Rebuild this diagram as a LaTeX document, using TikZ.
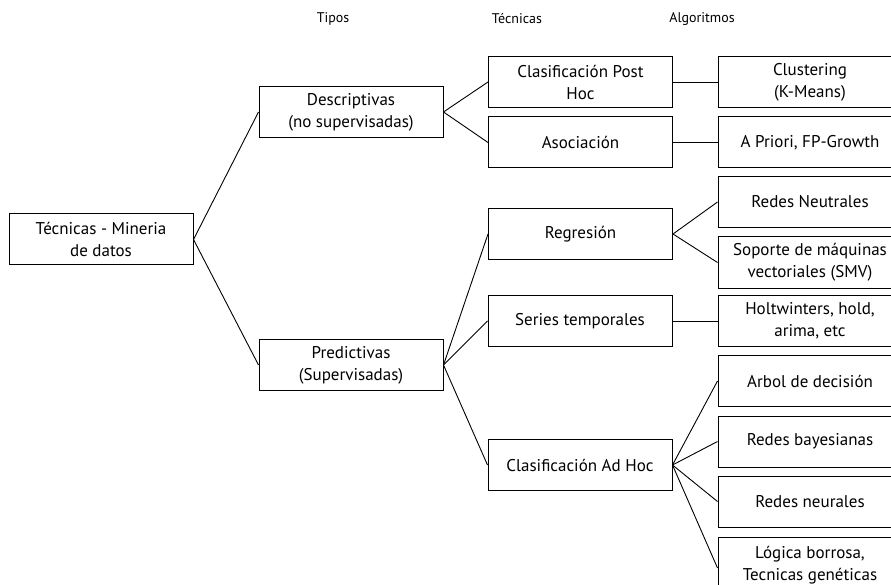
\documentclass[tikz,border=0pt]{standalone}
\usepackage{fontspec}
\setmainfont{PT Sans}
\begin{document}
\begin{tikzpicture}[x=1pt,y=-1pt,
  box/.style={draw=black,line width=1pt,minimum width=184pt,minimum height=51pt,align=center,inner sep=2pt,font=\fontsize{17}{22}\selectfont},
  hdr/.style={font=\fontsize{14}{17}\selectfont},
  con/.style={line width=0.9pt}]
\useasboundingbox (0,0) rectangle (891,585);
\clip (0,0) rectangle (891,585);
\node[hdr] (h1) at (333,19) {Tipos};
\node[hdr] (h2) at (517,19) {Técnicas};
\node[hdr] (h3) at (702,19) {Algoritmos};
\node[box] (root) at (101,239.5) {Técnicas - Mineria\\de datos};
\node[box] (desc) at (351,112) {Descriptivas\\(no supervisadas)};
\node[box] (pred) at (351,365) {Predictivas\\(Supervisadas)};
\node[box] (cph) at (580.5,82) {Clasificación Post\\Hoc};
\node[box] (asoc) at (580.5,142.5) {Asociación};
\node[box] (regr) at (580.5,234) {Regresión};
\node[box] (seri) at (580,321) {Series temporales};
\node[box] (adhoc) at (580,465) {Clasificación Ad Hoc};
\node[box] (clus) at (810,82) {Clustering\\(K-Means)};
\node[box] (apri) at (810,142.5) {A Priori, FP-Growth};
\node[box] (rneu) at (810,202) {Redes Neutrales};
\node[box] (sop) at (810,262.5) {Soporte de máquinas\\vectoriales (SMV)};
\node[box] (holt) at (810,321) {Holtwinters, hold,\\arima, etc};
\node[box] (arb) at (810,381) {Arbol de decisión};
\node[box] (bay) at (810,441.5) {Redes bayesianas};
\node[box] (neu) at (810,501.5) {Redes neurales};
\node[box,minimum height=56pt] (log) at (810,565) {Lógica borrosa,\\Tecnicas genéticas};
\draw[con] (root.east) -- (desc.west);
\draw[con] (root.east) -- (pred.west);
\draw[con] (desc.east) -- (cph.west);
\draw[con] (desc.east) -- (asoc.west);
\draw[con] (pred.east) -- (regr.west);
\draw[con] (pred.east) -- (seri.west);
\draw[con] (pred.east) -- (adhoc.west);
\draw[con] (cph.east) -- (clus.west);
\draw[con] (asoc.east) -- (apri.west);
\draw[con] (regr.east) -- (rneu.west);
\draw[con] (regr.east) -- (sop.west);
\draw[con] (seri.east) -- (holt.west);
\draw[con] (adhoc.east) -- (arb.west);
\draw[con] (adhoc.east) -- (bay.west);
\draw[con] (adhoc.east) -- (neu.west);
\draw[con] (adhoc.east) -- ([yshift=-3pt]log.west);
\end{tikzpicture}
\end{document}
